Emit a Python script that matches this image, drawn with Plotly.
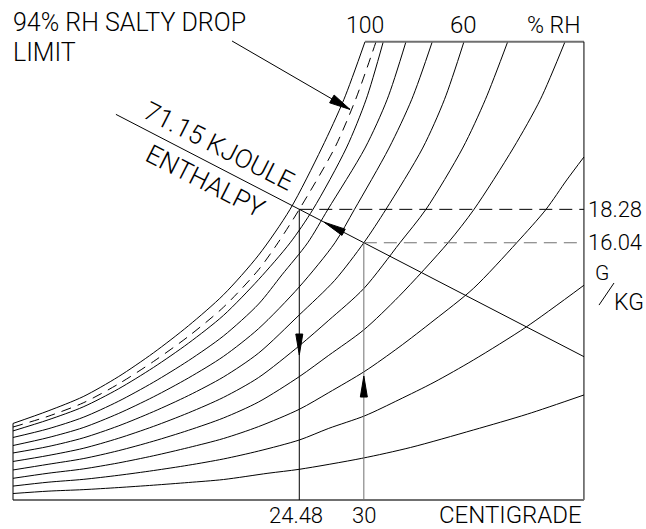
import numpy as np
import plotly.graph_objects as go

# ---------------------------------------------------------------------------
# Psychrometric sketch: dry-bulb temperature (deg C) vs humidity ratio (g/kg)
# ---------------------------------------------------------------------------

# Relative-humidity curves (temperature, humidity ratio)
T_100 = [0, 3, 6, 9, 12, 15, 18, 21, 23.69, 26.4, 28.3, 30.1]
W_100 = [3.92, 4.76, 5.72, 7.05, 8.65, 10.47, 12.55, 15.21, 18.28, 22.39, 25.66, 29.52]

T_94 = [0, 3, 6, 9, 12, 15, 18, 21, 22.66, 24.48, 27.5, 29.3, 31.04]
W_94 = [3.68, 4.40, 5.30, 6.56, 8.07, 9.76, 11.72, 14.23, 16.04, 18.28, 22.39, 25.66, 29.52]

T_90 = [0, 3, 6, 9, 12, 15, 18, 21, 23.7, 25.65, 28.5, 30.2, 31.66]
W_90 = [3.42, 4.16, 5.03, 6.23, 7.67, 9.30, 11.17, 13.57, 16.04, 18.28, 22.39, 25.66, 29.52]

T_80 = [0, 3, 6, 9, 12, 15, 18, 21, 23, 25.2, 26.93, 30.1, 32.0, 33.6]
W_80 = [2.98, 3.56, 4.33, 5.40, 6.68, 8.13, 9.79, 11.93, 13.89, 16.04, 18.28, 22.39, 25.66, 29.52]

T_70 = [0, 3, 6, 9, 12, 15, 18, 21, 24.48, 27.53, 29.2, 32.15, 34.1, 35.85]
W_70 = [2.44, 2.97, 3.64, 4.58, 5.70, 6.97, 8.42, 10.28, 13.08, 16.04, 18.28, 22.39, 25.66, 29.52]

T_60 = [0, 3, 6, 9, 12, 15, 18, 21, 24.48, 27.5, 30.0, 31.89, 35.03, 36.9, 38.56]
W_60 = [1.94, 2.37, 2.95, 3.75, 4.71, 5.79, 7.04, 8.64, 11.20, 13.51, 16.04, 18.28, 22.39, 25.66, 29.52]

T_50 = [0, 3, 6, 9, 12, 15, 18, 21, 24.48, 27, 30, 33.09, 35.31, 38.45, 40.4, 42.3]
W_50 = [1.37, 1.77, 2.25, 2.92, 3.72, 4.63, 5.67, 7.00, 9.13, 10.84, 12.97, 16.04, 18.28, 22.39, 25.66, 29.52]

T_40 = [0, 3, 6, 9, 12, 15, 18, 21, 24.48, 27, 30, 33, 37.2, 39.42, 42.78, 45.1, 47.2]
W_40 = [0.80, 1.18, 1.56, 2.09, 2.73, 3.46, 4.29, 5.36, 7.06, 8.49, 10.20, 12.44, 16.04, 18.28, 22.39, 25.66, 29.52]

T_30 = [0, 3, 6, 9, 12, 15, 18, 21, 24.48, 27, 30.1, 33, 36, 39.36, 43.07, 45.58, 47.35, 48.82]
W_30 = [0.24, 0.58, 0.87, 1.27, 1.75, 2.30, 2.91, 3.71, 4.87, 5.99, 7.43, 9.03, 10.84, 12.97, 16.04, 18.28, 20.25, 21.79]

T_20 = [0, 3, 6, 9, 12, 15, 18, 21, 24.48, 27, 30.1, 33, 36, 39.36, 43.92, 48.82]
W_20 = [-0.28, -0.02, 0.17, 0.44, 0.76, 1.12, 1.54, 2.07, 2.81, 3.59, 4.44, 5.51, 6.68, 8.17, 10.41, 13.19]

T_10 = [0, 3, 6, 9, 12, 15, 18, 21.8, 24.48, 29.82, 34, 39.36, 44, 48.82]
W_10 = [-0.78, -0.62, -0.52, -0.38, -0.22, -0.04, 0.16, 0.58, 0.845, 1.58, 2.31, 3.48, 4.55, 5.83]

# Constant-enthalpy line (71.15 kJ) through the two states
ENTH_T = [8.8, 24.48, 30.0, 48.82]
ENTH_W = [24.65, 18.28, 16.04, 8.40]

# States marked on the chart
STATE_1 = (24.48, 18.28)   # saturated-side state (94 % RH)
STATE_2 = (30.0, 16.04)    # 30 C state

# Chart frame in data units
T_MIN, T_MAX = 0.0, 48.82
W_MIN, W_MAX = -1.21, 29.52

# ---------------------------------------------------------------------------
WIDTH, HEIGHT = 646, 529
M_L, M_R, M_T, M_B = 11, 60, 40, 27
X_RANGE = [-0.171, 48.996]
Y_RANGE = [-1.348, 29.638]
PX_T = (WIDTH - M_L - M_R) / (X_RANGE[1] - X_RANGE[0])
PX_W = (HEIGHT - M_T - M_B) / (Y_RANGE[1] - Y_RANGE[0])

BLACK = "#000000"
GREY = "#707070"
FONT = "Roboto"
WEIGHT = 300

fig = go.Figure()


def add_line(x, y, color=BLACK, width=1, dash="solid", spline=False):
    fig.add_trace(go.Scatter(
        x=x, y=y, mode="lines",
        line=dict(color=color, width=width, dash=dash,
                  shape="spline" if spline else "linear", smoothing=0.8),
        hoverinfo="skip", showlegend=False))


curves = [
    (T_100, W_100, False), (T_94, W_94, True), (T_90, W_90, False),
    (T_80, W_80, False), (T_70, W_70, False), (T_60, W_60, False),
    (T_50, W_50, False), (T_40, W_40, False), (T_30, W_30, False),
    (T_20, W_20, False), (T_10, W_10, False),
]
for t, w, dashed in curves:
    add_line(t, w, dash="10px,7px" if dashed else "solid", spline=True)

# Frame
add_line([T_100[-1], T_MAX], [W_MAX, W_MAX], color=GREY, width=2)
add_line([T_MAX, T_MAX], [W_MIN, W_MAX])
add_line([T_MIN, T_MAX], [W_MIN, W_MIN], color=GREY, width=2)
add_line([T_MIN, T_MIN], [W_MIN, W_100[0]])

# Enthalpy line
add_line(ENTH_T, ENTH_W)

# State construction lines
add_line([STATE_1[0], T_MAX], [STATE_1[1], STATE_1[1]], dash="13px,7px")
add_line([STATE_2[0], T_MAX], [STATE_2[1], STATE_2[1]], color=GREY, dash="13px,7px")
add_line([STATE_1[0], STATE_1[0]], [STATE_1[1], W_MIN])
add_line([STATE_2[0], STATE_2[0]], [W_MIN, STATE_2[1]], color=GREY)


def arrow_head(tip_t, tip_w, from_t, from_w, length=21.0, half=3.5):
    """Filled slim triangle whose tip sits at (tip_t, tip_w)."""
    dx = (tip_t - from_t) * PX_T
    dy = -(tip_w - from_w) * PX_W
    n = np.hypot(dx, dy)
    ux, uy = dx / n, dy / n
    bx, by = -ux * length, -uy * length
    px, py = -uy * half, ux * half
    pts = [(0.0, 0.0), (bx + px, by + py), (bx - px, by - py)]
    coords = [(tip_t + ox / PX_T, tip_w - oy / PX_W) for ox, oy in pts]
    path = "M " + " L ".join(f"{a:.4f},{b:.4f}" for a, b in coords) + " Z"
    return dict(type="path", path=path, xref="x", yref="y",
                fillcolor=BLACK, line=dict(color=BLACK, width=1))


shapes = []
# downward arrow on the 24.48 line
shapes.append(arrow_head(STATE_1[0], 8.51, STATE_1[0], STATE_1[1]))
# upward arrow on the 30 line
shapes.append(arrow_head(STATE_2[0], 7.10, STATE_2[0], W_MIN))
# arrow along the enthalpy line, pointing toward state 1
tip_t = 26.6
tip_w = float(np.interp(tip_t, ENTH_T, ENTH_W))
shapes.append(arrow_head(tip_t, tip_w, STATE_2[0], STATE_2[1], length=22))
# pointer to the 94 % curve
PTR_TAIL = (18.73, 29.57)
PTR_TIP = (28.82, 24.98)
add_line([PTR_TAIL[0], PTR_TIP[0]], [PTR_TAIL[1], PTR_TIP[1]])
shapes.append(arrow_head(PTR_TIP[0], PTR_TIP[1], PTR_TAIL[0], PTR_TAIL[1], length=21, half=4.5))

# G/KG slash
shapes.append(dict(type="line", xref="paper", yref="y",
                   x0=(599 - M_L) / (WIDTH - M_L - M_R), y0=11.86,
                   x1=(614 - M_L) / (WIDTH - M_L - M_R), y1=13.34,
                   line=dict(color=BLACK, width=1)))


def label(text, x, y, size, xref="x", yref="y", xanchor="center", yanchor="middle",
          xshift=0, yshift=0, angle=0, align="center"):
    return dict(text=text, x=x, y=y, xref=xref, yref=yref, showarrow=False,
                xanchor=xanchor, yanchor=yanchor, xshift=xshift, yshift=yshift,
                textangle=angle, align=align,
                font=dict(family=FONT, size=size, color=BLACK, weight=WEIGHT))


# two-line note: 25 px glyphs on a 29.5 px line pitch
NOTE_STYLE = "font-size:25px"
note_text = (f'<span style="{NOTE_STYLE}">94% RH SALTY DROP</span><br>'
             f'<span style="{NOTE_STYLE}">LIMIT</span>')

annotations = [
    label(note_text, 0, 1, 22.7, xref="paper", yref="paper",
          xanchor="left", yshift=3, align="left"),
    label("100", T_100[-1], 1, 23, yref="paper", yshift=15),
    label("60", T_60[-1], 1, 24, yref="paper", yshift=15),
    label("% RH", 46.3, 1, 23, yref="paper", yshift=15),
    label("71.15 KJOULE", 17.61, 22.53, 26, angle=26.9),
    label("ENTHALPY", 16.42, 20.18, 26, angle=26.9),
    label("18.28", T_MAX, STATE_1[1], 22, xanchor="left", xshift=2),
    label("16.04", T_MAX, STATE_2[1], 22, xanchor="left", xshift=2),
    label("G", (601.5 - M_L) / (WIDTH - M_L - M_R), 13.98, 21, xref="paper"),
    label("KG", (628.5 - M_L) / (WIDTH - M_L - M_R), 12.0, 23, xref="paper"),
    label("24.48", STATE_1[0], 0, 22, yref="paper", xshift=-3, yshift=-13),
    label("30", STATE_2[0], 0, 22, yref="paper", yshift=-13),
    label("CENTIGRADE", 42.58, 0, 24, yref="paper", yshift=-13),
]

fig.update_layout(
    width=WIDTH, height=HEIGHT,
    margin=dict(l=M_L, r=M_R, t=M_T, b=M_B, pad=0),
    paper_bgcolor="white", plot_bgcolor="white",
    xaxis=dict(range=X_RANGE, visible=False, fixedrange=True),
    yaxis=dict(range=Y_RANGE, visible=False, fixedrange=True),
    shapes=shapes, annotations=annotations,
    font=dict(family=FONT),
    showlegend=False,
)

fig.write_html("out.html")
